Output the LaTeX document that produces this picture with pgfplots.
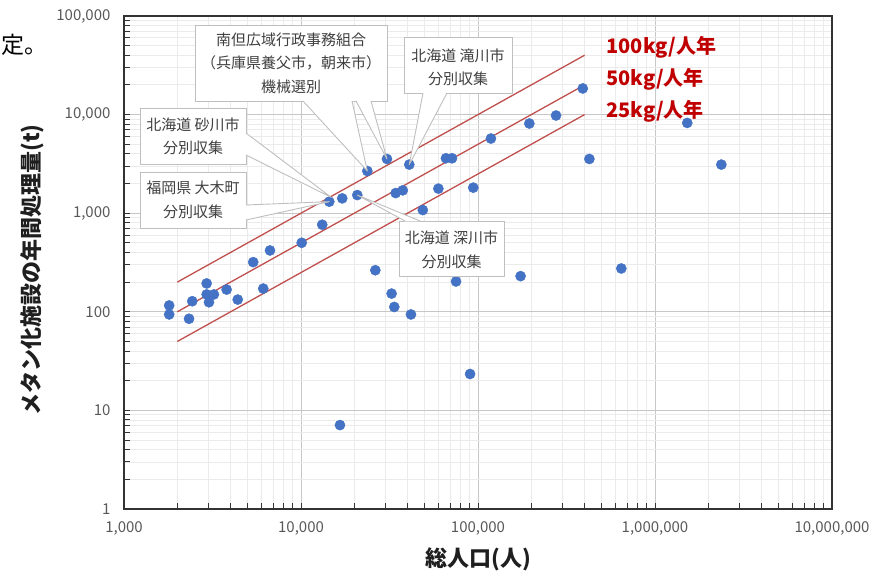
\documentclass[border=0pt]{standalone}
\usepackage{fontspec}
\setmainfont{Noto Sans CJK JP}
\usepackage{pgfplots}
\pgfplotsset{compat=1.18}
\definecolor{ptblue}{HTML}{4472C4}
\definecolor{refred}{HTML}{C0504D}
\definecolor{lblred}{HTML}{C00000}
\definecolor{ticktxt}{HTML}{595959}
\definecolor{boxtxt}{HTML}{404040}
\definecolor{boxline}{HTML}{BFBFBF}
\begin{document}
\begin{tikzpicture}
\path[use as bounding box] (-124pt,-64pt) rectangle (764pt,509pt);
\begin{axis}[
  scale only axis, width=708pt, height=493pt,
  xmode=log, ymode=log, xmin=1000, xmax=1e7, ymin=1, ymax=1e5,
  log ticks with fixed point,
  /pgf/number format/1000 sep={,},
  /pgf/number format/assume math mode=true,
  grid=both,
  major grid style={draw=black!22, line width=0.9pt},
  minor grid style={draw=black!8, line width=0.9pt},
  axis line style={draw=black!80, line width=1.4pt},
  tick align=inside, tick pos=left,
  major tick length=6pt, minor tick length=6pt,
  tick style={draw=black!80, line width=1pt},
  ticklabel style={font=\fontsize{15}{18}\selectfont, text=ticktxt},
  yticklabel style={xshift=-10pt},
  xticklabel style={yshift=-9pt},
]
\addplot[refred, line width=1.3pt] coordinates {(2000,200) (400000,40000)};
\addplot[refred, line width=1.3pt] coordinates {(2000,100) (400000,20000)};
\addplot[refred, line width=1.3pt] coordinates {(2000,50) (400000,10000)};
\addplot[only marks, mark=*, mark size=5.1pt, mark options={fill=ptblue, draw=ptblue}] coordinates {
(1800,116) (1800,94) (2330,85) (2430,128) (2930,194) (2930,150) (3220,150) (3020,125)
(3800,168) (4390,133) (5370,319) (6120,172) (6680,419) (10090,501) (13180,764)
(14450,1309) (17100,1414) (20800,1527) (23700,2679) (30600,3548) (40900,3111)
(34270,1600) (37580,1705) (48770,1076) (59720,1775) (65900,3606) (71300,3606)
(94000,1816) (118300,5715) (195000,8120) (26300,264) (32500,153) (33650,112)
(41800,94) (75150,203) (174000,230) (390800,18420) (276000,9790) (1521000,8235)
(425800,3548) (2370000,3111) (645000,275) (90200,23.4) (16600,7.1)
};
\coordinate (t16) at (axis cs:14450,1309);
\coordinate (t16b) at (axis cs:14800,1450);
\coordinate (t18) at (axis cs:20800,1527);
\coordinate (t19) at (axis cs:23700,2679);
\coordinate (t20) at (axis cs:30600,3548);
\coordinate (t21) at (axis cs:40900,3111);
\end{axis}
\tikzset{
  cbox/.style={draw=boxline, fill=white, line width=0.9pt},
  wline/.style={draw=boxline, line width=0.9pt, line join=round},
  ctext/.style={text=boxtxt, font=\fontsize{15}{23.5}\selectfont, align=center},
}
% Box A
\draw[cbox] (71pt,408pt) rectangle (263pt,484pt);
\fill[white] (179pt,408.5pt) -- (t19) -- (228pt,408.5pt) -- cycle;
\draw[wline] (179pt,408pt) -- (t19) -- (228pt,408pt);
\fill[white] (232pt,408.5pt) -- (t20) -- (247pt,408.5pt) -- cycle;
\draw[wline] (232pt,408pt) -- (t20) -- (247pt,408pt);
\node[ctext] at (167pt,446pt) {南但広域行政事務組合\\（兵庫県養父市，朝来市）\\機械選別};
% Box B
\draw[cbox] (280pt,416pt) rectangle (388pt,472pt);
\fill[white] (299pt,416.5pt) -- (t21) -- (323pt,416.5pt) -- cycle;
\draw[wline] (299pt,416pt) -- (t21) -- (323pt,416pt);
\node[ctext] at (334pt,441.5pt) {北海道 滝川市\\分別収集};
% Box C
\draw[cbox] (16pt,345pt) rectangle (122pt,401pt);
\fill[white] (121.5pt,376pt) -- (t16b) -- (121.5pt,354pt) -- cycle;
\draw[wline] (122pt,376pt) -- (t16b) -- (122pt,354pt);
\node[ctext] at (69pt,372.5pt) {北海道 砂川市\\分別収集};
% Box D
\draw[cbox] (16pt,281pt) rectangle (122pt,337pt);
\fill[white] (121.5pt,304pt) -- (t16) -- (121.5pt,289pt) -- cycle;
\draw[wline] (122pt,304pt) -- (t16) -- (122pt,289pt);
\node[ctext] at (69pt,309pt) {福岡県 大木町\\分別収集};
% Box E
\draw[cbox] (275pt,233pt) rectangle (380pt,288pt);
\fill[white] (281pt,287.5pt) -- (t18) -- (296pt,287.5pt) -- cycle;
\draw[wline] (281pt,288pt) -- (t18) -- (296pt,288pt);
\node[ctext] at (327.5pt,259pt) {北海道 深川市\\分別収集};
% red labels
\node[anchor=west, text=lblred, font=\fontsize{20}{24}\selectfont\bfseries] at (479pt,462pt) {100kg/人年};
\node[anchor=west, text=lblred, font=\fontsize{20}{24}\selectfont\bfseries] at (479pt,430pt) {50kg/人年};
\node[anchor=west, text=lblred, font=\fontsize{20}{24}\selectfont\bfseries] at (479pt,398pt) {25kg/人年};
% axis titles
\node[rotate=90, font=\fontsize{22}{26}\selectfont\bfseries, text=black!88] at (-92pt,239pt) {メタン化施設の年間処理量(t)};
\node[font=\fontsize{22}{26}\selectfont\bfseries, text=black!88] at (354pt,-50pt) {総人口(人)};
\node[anchor=west, inner sep=0pt, font=\fontsize{23}{27}\selectfont] at (-123pt,464pt) {定。};
\end{tikzpicture}
\end{document}
